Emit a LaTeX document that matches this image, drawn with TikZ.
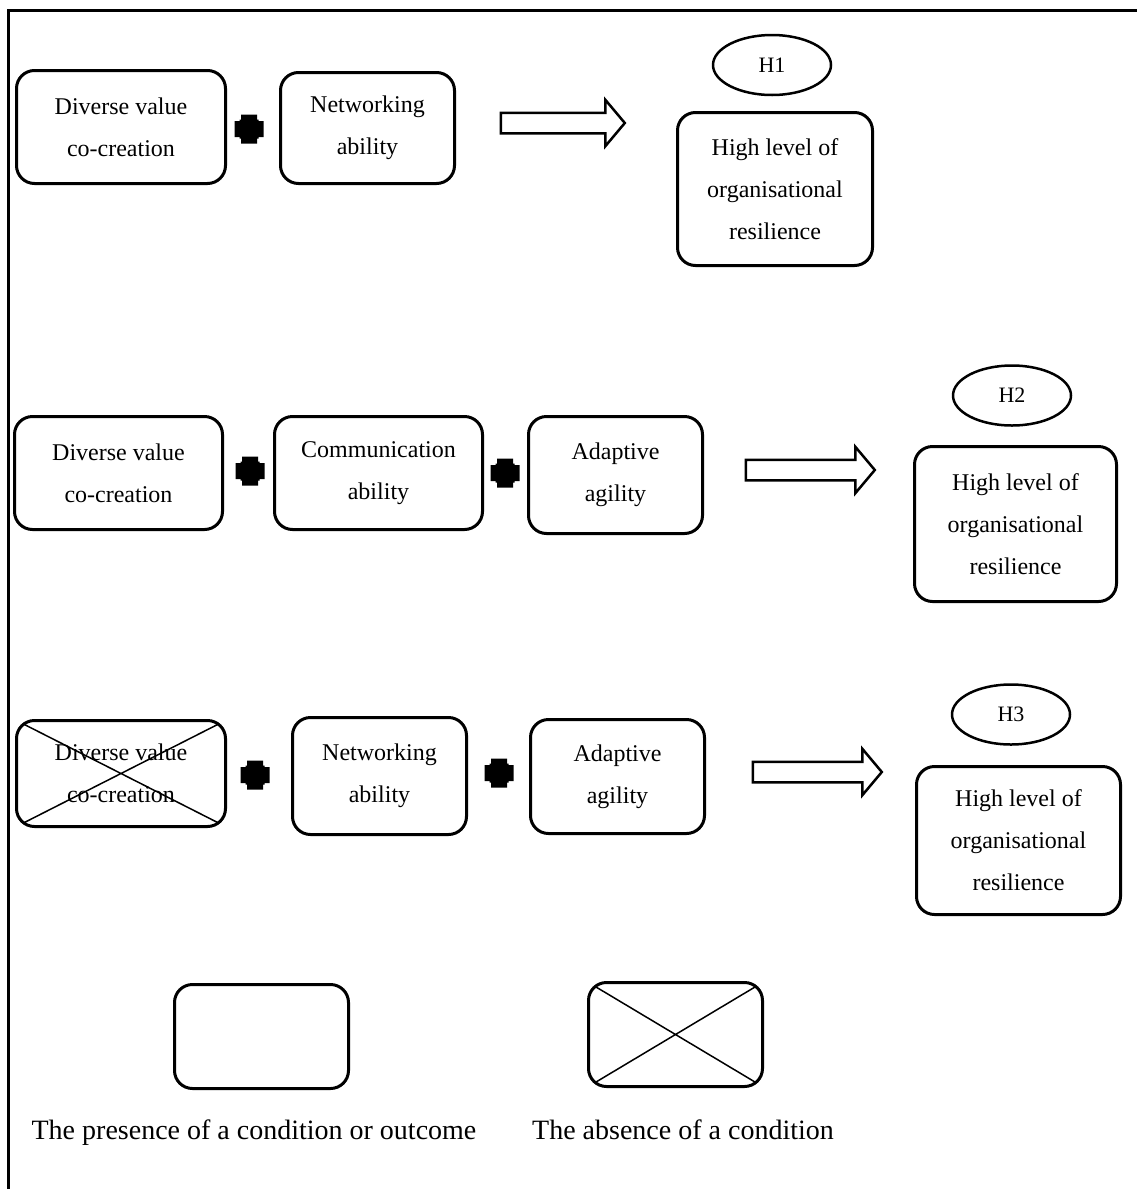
\documentclass[tikz,border=0pt]{standalone}
\usepackage{fontspec}
\setmainfont{Liberation Serif}
\usetikzlibrary{shapes.geometric,shapes.arrows}
\tikzset{
  box/.style={draw, line width=3pt, rounded corners=18pt, align=center, inner sep=0pt,
    font=\fontsize{24}{42}\selectfont},
  crossed/.style={path picture={\draw[line width=1.5pt]
      (path picture bounding box.north west) -- (path picture bounding box.south east)
      (path picture bounding box.south west) -- (path picture bounding box.north east);}},
  hyp/.style={draw, ellipse, line width=2.5pt, minimum width=118pt, minimum height=60pt,
    inner sep=0pt, font=\fontsize{22}{24}\selectfont},
  plussign/.style={minimum size=30pt, inner sep=0pt,
    path picture={\fill[black]
      ([shift={(-8pt,-14.5pt)}]path picture bounding box.center) rectangle ([shift={(8pt,14.5pt)}]path picture bounding box.center)
      ([shift={(-14.5pt,-8pt)}]path picture bounding box.center) rectangle ([shift={(14.5pt,8pt)}]path picture bounding box.center)
      ([shift={(-9.5pt,-9.5pt)}]path picture bounding box.center) rectangle ([shift={(9.5pt,9.5pt)}]path picture bounding box.center);}},
  blockarrow/.style={draw, single arrow, line width=2.5pt, inner sep=9pt,
    single arrow head extend=13pt, single arrow tip angle=100},
  legendtext/.style={font=\fontsize{28}{30}\selectfont, inner sep=0pt, anchor=base}
}
\begin{document}
\begin{tikzpicture}[x=1pt,y=-1pt]
\useasboundingbox (0,0) rectangle (1137,1189);
\draw[line width=3pt] (8,1189) -- (8,10) -- (1137,10);

% Row 1
\node[box, minimum width=209pt, minimum height=113pt] (a1) at (121,127) {Diverse value\\co-creation};
\node[plussign] (p1) at (249,129) {};
\node[box, minimum width=174pt, minimum height=111pt] (b1) at (367.5,128) {Networking\\ability};
\node[blockarrow, minimum height=124pt] (ar1) at (558.5,123) {};
\node[hyp] (h1) at (772,65) {H1};
\node[box, minimum width=195pt, minimum height=153pt] (c1) at (775,189) {High level of\\organisational\\resilience};

% Row 2
\node[box, minimum width=208pt, minimum height=113pt] (a2) at (118.5,473) {Diverse value\\co-creation};
\node[plussign] (p2) at (250,471) {};
\node[box, minimum width=208pt, minimum height=113pt] (b2) at (378.5,473) {Communication\\ability};
\node[plussign] (p3) at (505,473) {};
\node[box, minimum width=174pt, minimum height=117pt] (c2) at (615.5,475) {Adaptive\\agility};
\node[blockarrow, minimum height=129pt] (ar2) at (806,470) {};
\node[hyp] (h2) at (1012,395.5) {H2};
\node[box, minimum width=202pt, minimum height=155pt] (d2) at (1015.5,524) {High level of\\organisational\\resilience};

% Row 3
\node[box, crossed, minimum width=209pt, minimum height=106pt] (a3) at (121,773.5) {Diverse value\\co-creation};
\node[plussign] (p4) at (255,775) {};
\node[box, minimum width=174pt, minimum height=117pt] (b3) at (379.5,776) {Networking\\ability};
\node[plussign] (p5) at (499,773) {};
\node[box, minimum width=174pt, minimum height=114pt] (c3) at (617.5,776.5) {Adaptive\\agility};
\node[blockarrow, minimum height=129pt] (ar3) at (813,772) {};
\node[hyp] (h3) at (1011,714.5) {H3};
\node[box, minimum width=204pt, minimum height=148pt] (d3) at (1018.5,840.5) {High level of\\organisational\\resilience};

% Legend
\node[box, minimum width=174pt, minimum height=104pt] (l1) at (261.5,1036.5) {};
\node[box, crossed, minimum width=174pt, minimum height=104pt] (l2) at (675.5,1034.5) {};
\node[legendtext] (t1) at (254,1139) {The presence of a condition or outcome};
\node[legendtext] (t2) at (683,1139) {The absence of a condition};
\end{tikzpicture}
\end{document}
